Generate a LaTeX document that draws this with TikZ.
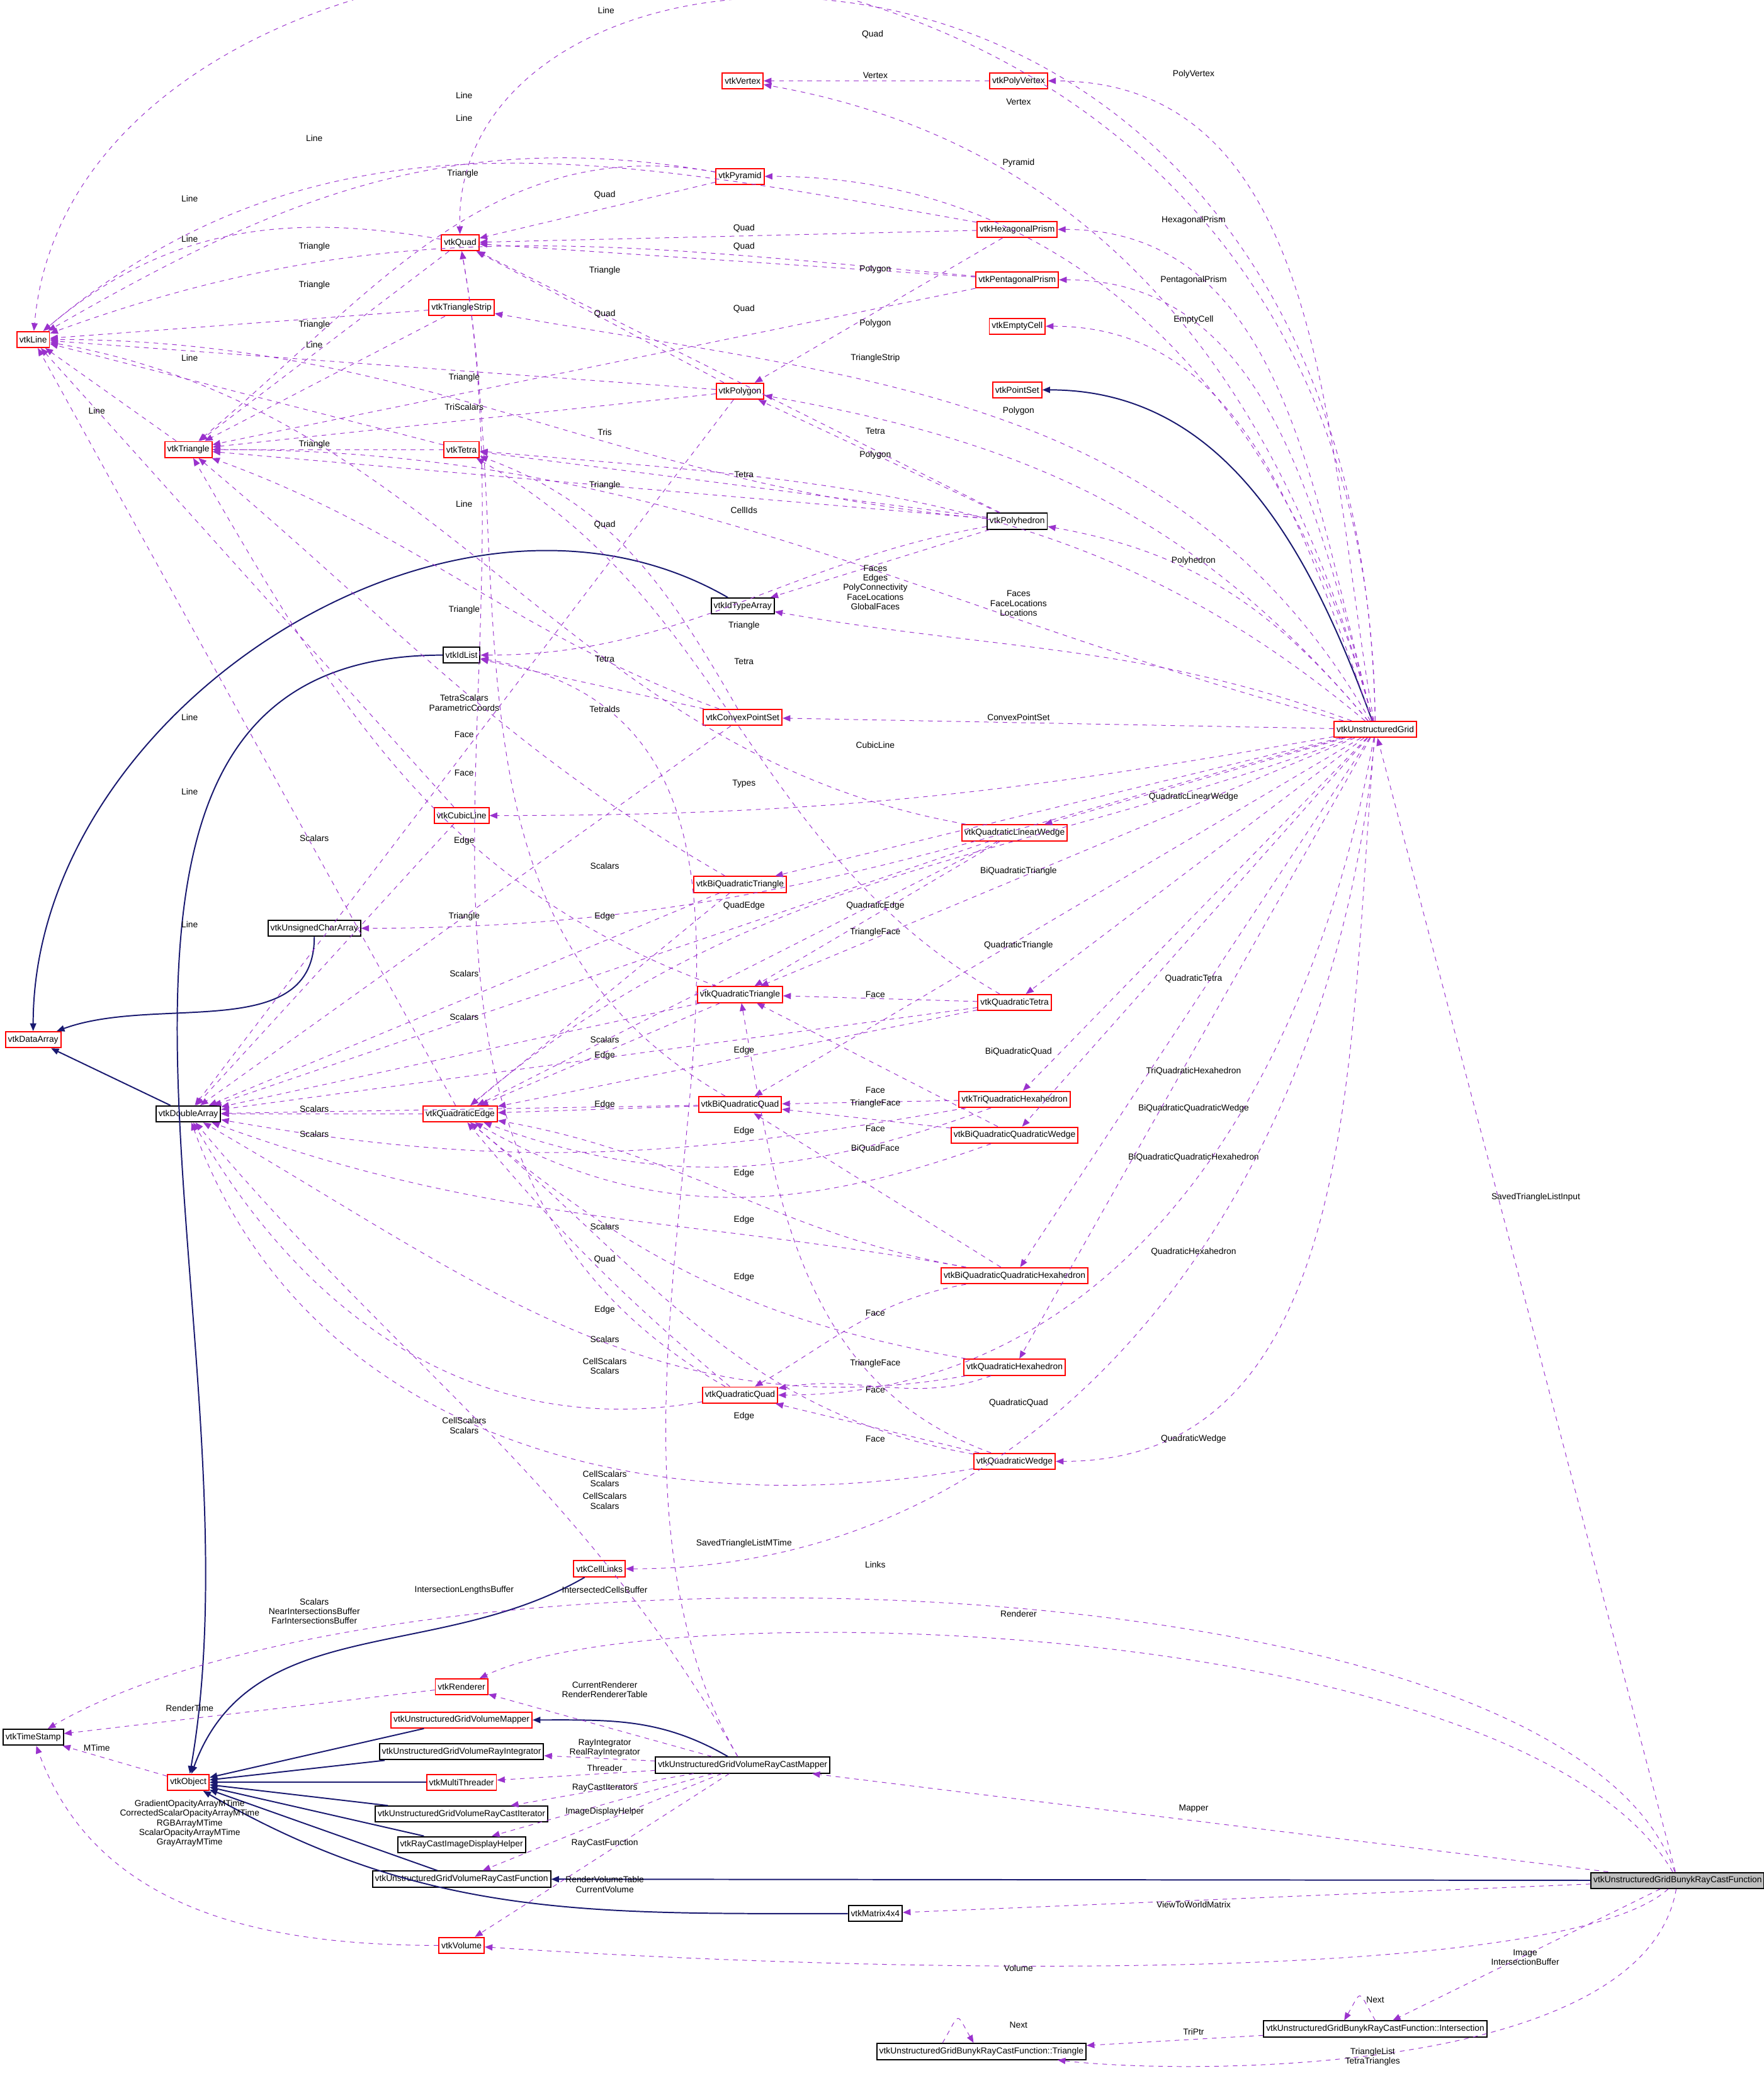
\documentclass[tikz,border=0pt]{standalone}
\usepackage{fontspec}
\setmainfont{Liberation Sans}
\usetikzlibrary{arrows.meta}
\definecolor{vpurple}{HTML}{9A32CD}
\definecolor{vblue}{HTML}{191970}

\begin{document}
\begin{tikzpicture}[x=0.03cm, y=-0.03cm,
    font=\fontsize{5.6}{6.2}\selectfont,
    cls/.style ={rectangle, draw=black, thick, fill=white, inner sep=1.6pt, minimum height=0.36cm},
    redcls/.style ={cls, draw=red},
    uses/.style ={dashed, draw=vpurple, -{Triangle[width=4pt,length=5pt]}},
    isa/.style ={draw=vblue, thick, -{Triangle[width=4pt,length=5pt]}},
    lbl/.style ={align=center, inner sep=0pt}]
   \useasboundingbox (0,0) rectangle (1330,1567);
   \fill[white] (0,0) rectangle (1330,1567);

   % classes
   \node[redcls] (Line) at (25,256) {vtkLine};
   \node[redcls] (Vertex) at (560,61) {vtkVertex};
   \node[redcls] (PolyVertex) at (768,61) {vtkPolyVertex};
   \node[redcls] (Pyramid) at (558,133) {vtkPyramid};
   \node[redcls] (Quad) at (347,183) {vtkQuad};
   \node[redcls] (HexPrism) at (767,173) {vtkHexagonalPrism};
   \node[redcls] (PentPrism) at (767,211) {vtkPentagonalPrism};
   \node[redcls] (TriStrip) at (348,232) {vtkTriangleStrip};
   \node[redcls] (EmptyCell) at (767,246) {vtkEmptyCell};
   \node[redcls] (PointSet) at (767,294) {vtkPointSet};
   \node[redcls] (Polygon) at (558,295) {vtkPolygon};
   \node[redcls] (Triangle) at (142,339) {vtkTriangle};
   \node[redcls] (Tetra) at (348,339) {vtkTetra};
   \node[cls] (Polyhedron) at (767,393) {vtkPolyhedron};
   \node[cls] (IdTypeArray) at (560,457) {vtkIdTypeArray};
   \node[cls] (IdList) at (348,494) {vtkIdList};
   \node[redcls] (ConvexPS) at (560,541) {vtkConvexPointSet};
   \node[redcls] (UG) at (1037,550) {vtkUnstructuredGrid};
   \node[redcls] (CubicLine) at (348,615) {vtkCubicLine};
   \node[redcls] (QLWedge) at (765,628) {vtkQuadraticLinearWedge};
   \node[redcls] (BQTriangle) at (558,667) {vtkBiQuadraticTriangle};
   \node[cls] (UCharArray) at (237,700) {vtkUnsignedCharArray};
   \node[redcls] (QTriangle) at (558,750) {vtkQuadraticTriangle};
   \node[redcls] (QTetra) at (765,756) {vtkQuadraticTetra};
   \node[redcls] (DataArray) at (25,784) {vtkDataArray};
   \node[redcls] (QEdge) at (347,840) {vtkQuadraticEdge};
   \node[cls] (DoubleArray) at (142,840) {vtkDoubleArray};
   \node[redcls] (BQQuad) at (558,833) {vtkBiQuadraticQuad};
   \node[redcls] (TQHex) at (765,829) {vtkTriQuadraticHexahedron};
   \node[redcls] (BQQWedge) at (765,856) {vtkBiQuadraticQuadraticWedge};
   \node[redcls] (BQQHex) at (765,962) {vtkBiQuadraticQuadraticHexahedron};
   \node[redcls] (QHex) at (765,1031) {vtkQuadraticHexahedron};
   \node[redcls] (QQuad) at (558,1052) {vtkQuadraticQuad};
   \node[redcls] (QWedge) at (765,1102) {vtkQuadraticWedge};
   \node[redcls] (CellLinks) at (452,1183) {vtkCellLinks};
   \node[redcls] (Renderer) at (348,1272) {vtkRenderer};
   \node[redcls] (UGVMapper) at (348,1297) {vtkUnstructuredGridVolumeMapper};
   \node[cls] (RayIntegrator) at (348,1321) {vtkUnstructuredGridVolumeRayIntegrator};
   \node[cls] (TimeStamp) at (25,1310) {vtkTimeStamp};
   \node[redcls] (Object) at (142,1344) {vtkObject};
   \node[redcls] (Threader) at (348,1344) {vtkMultiThreader};
   \node[cls] (RCMapper) at (560,1331) {vtkUnstructuredGridVolumeRayCastMapper};
   \node[cls] (RCIterator) at (348,1368) {vtkUnstructuredGridVolumeRayCastIterator};
   \node[cls] (DisplayHelper) at (348,1391) {vtkRayCastImageDisplayHelper};
   \node[cls] (RCFunction) at (348,1417) {vtkUnstructuredGridVolumeRayCastFunction};
   \node[cls, fill=black!25] (Bunyk) at (1265,1418) {vtkUnstructuredGridBunykRayCastFunction};
   \node[cls] (Matrix) at (660,1443) {vtkMatrix4x4};
   \node[redcls] (Volume) at (348,1467) {vtkVolume};
   \node[cls] (Intersection) at (1037,1530) {vtkUnstructuredGridBunykRayCastFunction::Intersection};
   \node[cls] (BTriangle) at (740,1547) {vtkUnstructuredGridBunykRayCastFunction::Triangle};
   \coordinate (c1) at (1180,1170);
   \coordinate (c2) at (300,1150);
   \coordinate (c3) at (1150,1220);
   \coordinate (c4) at (500,1200);

   % inheritance
   \draw[isa] (UG) to[out=110, in=0] (PointSet);
   \draw[isa] (IdTypeArray) to[out=150, in=90] (DataArray);
   \draw[isa] (UCharArray) to[out=-90, in=20] (DataArray);
   \draw[isa] (DoubleArray) -- (DataArray);
   \draw[isa] (IdList) to[out=180, in=80] (Object);
   \draw[isa] (CellLinks) to[out=-150, in=70] (Object);
   \draw[isa] (UGVMapper) -- (Object);
   \draw[isa] (RayIntegrator) -- (Object);
   \draw[isa] (Threader) -- (Object);
   \draw[isa] (RCIterator) -- (Object);
   \draw[isa] (DisplayHelper) -- (Object);
   \draw[isa] (RCFunction) -- (Object);
   \draw[isa] (Matrix) to[out=180, in=-30] (Object);
   \draw[isa] (RCMapper) to[out=150, in=0] (UGVMapper);
   \draw[isa] (Bunyk) -- (RCFunction);

   % uses, vtkUnstructuredGrid
   \draw[uses] (UG) .. controls (1030,-180) and (60,-140) .. (Line);
   \draw[uses] (UG) .. controls (1025,-120) and (340,-90) .. (Quad);
   \draw[uses] (UG) to[out=100, in=0] (PolyVertex);
   \draw[uses] (UG) to[out=105, in=-10] (Vertex);
   \draw[uses] (UG) to[out=105, in=0] (Pyramid);
   \draw[uses] (UG) to[out=105, in=0] (HexPrism);
   \draw[uses] (UG) to[out=105, in=0] (PentPrism);
   \draw[uses] (UG) to[out=110, in=0] (EmptyCell);
   \draw[uses] (UG) to[out=120, in=-10] (TriStrip);
   \draw[uses] (UG) to[out=130, in=-10] (Polygon);
   \draw[uses] (UG) to[out=140, in=-5] (Tetra);
   \draw[uses] (UG) to[out=130, in=-10] (Polyhedron);
   \draw[uses] (UG) to[out=160, in=-10] (IdTypeArray);
   \draw[uses] (UG) to[out=165, in=0] (Triangle);
   \draw[uses] (UG) -- (ConvexPS);
   \draw[uses] (UG) to[out=-170, in=0] (CubicLine);
   \draw[uses] (UG) to[out=-165, in=0] (UCharArray);
   \draw[uses] (UG) -- (QLWedge);
   \draw[uses] (UG) -- (BQTriangle);
   \draw[uses] (UG) to[out=-160, in=40] (QEdge);
   \draw[uses] (UG) -- (QTriangle);
   \draw[uses] (UG) -- (QTetra);
   \draw[uses] (UG) -- (BQQuad);
   \draw[uses] (UG) -- (TQHex);
   \draw[uses] (UG) -- (BQQWedge);
   \draw[uses] (UG) -- (BQQHex);
   \draw[uses] (UG) -- (QHex);
   \draw[uses] (UG) to[out=-100, in=0] (QQuad);
   \draw[uses] (UG) to[out=-95, in=0] (QWedge);
   \draw[uses] (UG) to[out=-95, in=0] (CellLinks);

   % uses, cells
   \draw[uses] (PolyVertex) -- (Vertex);
   \draw[uses] (Pyramid) to[out=170, in=30] (Line);
   \draw[uses] (Pyramid) to[out=170, in=40] (Triangle);
   \draw[uses] (Pyramid) -- (Quad);
   \draw[uses] (HexPrism) to[out=170, in=40] (Line);
   \draw[uses] (HexPrism) -- (Quad);
   \draw[uses] (HexPrism) -- (Polygon);
   \draw[uses] (PentPrism) to[out=175, in=20] (Line);
   \draw[uses] (PentPrism) -- (Quad);
   \draw[uses] (PentPrism) -- (Triangle);
   \draw[uses] (Quad) to[out=170, in=40] (Line);
   \draw[uses] (Quad) -- (Triangle);
   \draw[uses] (TriStrip) -- (Line);
   \draw[uses] (TriStrip) -- (Triangle);
   \draw[uses] (Polygon) -- (Line);
   \draw[uses] (Polygon) -- (Triangle);
   \draw[uses] (Polygon) -- (Quad);
   \draw[uses] (Polygon) -- (DoubleArray);
   \draw[uses] (Triangle) -- (Line);
   \draw[uses] (Tetra) -- (Line);
   \draw[uses] (Tetra) -- (Triangle);
   \draw[uses] (Polyhedron) -- (Quad);
   \draw[uses] (Polyhedron) -- (Polygon);
   \draw[uses] (Polyhedron) -- (Tetra);
   \draw[uses] (Polyhedron) -- (Triangle);
   \draw[uses] (Polyhedron) to[out=175, in=0] (Line);
   \draw[uses] (Polyhedron) to[out=-170, in=0] (IdList);
   \draw[uses] (Polyhedron) -- (IdTypeArray);
   \draw[uses] (ConvexPS) to[out=160, in=-20] (Triangle);
   \draw[uses] (ConvexPS) to[out=120, in=-20] (Tetra);
   \draw[uses] (ConvexPS) -- (IdList);
   \draw[uses] (ConvexPS) -- (DoubleArray);
   \draw[uses] (CubicLine) -- (Line);
   \draw[uses] (CubicLine) -- (DoubleArray);
   \draw[uses] (QEdge) -- (Line);
   \draw[uses] (QEdge) -- (DoubleArray);
   \draw[uses] (BQTriangle) to[out=150, in=-40] (Triangle);
   \draw[uses] (BQTriangle) -- (QEdge);
   \draw[uses] (BQTriangle) -- (DoubleArray);
   \draw[uses] (QLWedge) to[out=170, in=-10] (Line);
   \draw[uses] (QLWedge) -- (QEdge);
   \draw[uses] (QLWedge) -- (QTriangle);
   \draw[uses] (QLWedge) -- (DoubleArray);
   \draw[uses] (QTriangle) -- (QEdge);
   \draw[uses] (QTriangle) -- (DoubleArray);
   \draw[uses] (QTriangle) to[out=160, in=-60] (Triangle);
   \draw[uses] (QTetra) -- (QTriangle);
   \draw[uses] (QTetra) -- (QEdge);
   \draw[uses] (QTetra) to[out=150, in=-30] (Tetra);
   \draw[uses] (QTetra) -- (DoubleArray);
   \draw[uses] (BQQuad) to[out=150, in=-80] (Quad);
   \draw[uses] (BQQuad) -- (QEdge);
   \draw[uses] (BQQuad) -- (DoubleArray);
   \draw[uses] (TQHex) -- (BQQuad);
   \draw[uses] (TQHex) to[out=-160, in=-20] (QEdge);
   \draw[uses] (TQHex) to[out=-170, in=-10] (DoubleArray);
   \draw[uses] (BQQWedge) -- (QTriangle);
   \draw[uses] (BQQWedge) -- (BQQuad);
   \draw[uses] (BQQWedge) to[out=-160, in=-30] (QEdge);
   \draw[uses] (BQQHex) -- (BQQuad);
   \draw[uses] (BQQHex) to[out=170, in=-10] (QEdge);
   \draw[uses] (BQQHex) to[out=170, in=-20] (DoubleArray);
   \draw[uses] (BQQHex) to[out=-170, in=30] (QQuad);
   \draw[uses] (QHex) to[out=170, in=-40] (QEdge);
   \draw[uses] (QHex) to[out=-160, in=10] (QQuad);
   \draw[uses] (QHex) to[out=-170, in=-30] (DoubleArray);
   \draw[uses] (QQuad) to[out=150, in=-80] (Quad);
   \draw[uses] (QQuad) to[out=140, in=-50] (QEdge);
   \draw[uses] (QQuad) to[out=-170, in=-60] (DoubleArray);
   \draw[uses] (QWedge) -- (QQuad);
   \draw[uses] (QWedge) to[out=160, in=-80] (QTriangle);
   \draw[uses] (QWedge) to[out=170, in=-40] (QEdge);
   \draw[uses] (QWedge) to[out=-170, in=-70] (DoubleArray);

   % uses, ray casting
   \draw[uses] (Bunyk) -- (UG);
   \draw[uses] (Bunyk) .. controls (c1) and (c2) .. (TimeStamp);
   \draw[uses] (Bunyk) .. controls (c3) and (c4) .. (Renderer);
   \draw[uses] (Bunyk) -- (RCMapper);
   \draw[uses] (Bunyk) -- (Matrix);
   \draw[uses] (Bunyk) .. controls (1180,1495) and (700,1490) .. (Volume);
   \draw[uses] (Bunyk) -- (Intersection);
   \draw[uses] (Bunyk) .. controls (1240,1565) and (900,1565) .. (BTriangle);
   \draw[uses] (Intersection.north) to[out=120, in=60, looseness=3] ([xshift=-20]Intersection.north);
   \draw[uses] ([xshift=-25]BTriangle.north) to[out=60, in=120, looseness=3] ([xshift=-5]BTriangle.north);
   \draw[uses] (Intersection) -- (BTriangle);
   \draw[uses] (RCMapper) -- (Renderer);
   \draw[uses] (RCMapper) -- (RayIntegrator);
   \draw[uses] (RCMapper) -- (Threader);
   \draw[uses] (RCMapper) -- (RCIterator);
   \draw[uses] (RCMapper) -- (DisplayHelper);
   \draw[uses] (RCMapper) -- (RCFunction);
   \draw[uses] (RCMapper) -- (Volume);
   \draw[uses] (RCMapper) to[out=120, in=-50] (DoubleArray);
   \draw[uses] (RCMapper) to[out=120, in=-10] (IdList);
   \draw[uses] (Renderer) -- (TimeStamp);
   \draw[uses] (Object) -- (TimeStamp);
   \draw[uses] (Volume) to[out=180, in=-70] (TimeStamp);

   % labels
   \node[lbl] at (457,8) {Line};
   \node[lbl] at (658,26) {Quad};
   \node[lbl] at (660,57) {Vertex};
   \node[lbl] at (900,56) {PolyVertex};
   \node[lbl] at (768,77) {Vertex};
   \node[lbl] at (350,72) {Line};
   \node[lbl] at (350,89) {Line};
   \node[lbl] at (237,104) {Line};
   \node[lbl] at (768,123) {Pyramid};
   \node[lbl] at (349,131) {Triangle};
   \node[lbl] at (456,147) {Quad};
   \node[lbl] at (143,150) {Line};
   \node[lbl] at (900,166) {HexagonalPrism};
   \node[lbl] at (561,172) {Quad};
   \node[lbl] at (143,180) {Line};
   \node[lbl] at (237,186) {Triangle};
   \node[lbl] at (561,186) {Quad};
   \node[lbl] at (456,204) {Triangle};
   \node[lbl] at (660,203) {Polygon};
   \node[lbl] at (900,211) {PentagonalPrism};
   \node[lbl] at (237,215) {Triangle};
   \node[lbl] at (456,237) {Quad};
   \node[lbl] at (561,233) {Quad};
   \node[lbl] at (900,241) {EmptyCell};
   \node[lbl] at (660,244) {Polygon};
   \node[lbl] at (237,245) {Triangle};
   \node[lbl] at (237,260) {Line};
   \node[lbl] at (660,270) {TriangleStrip};
   \node[lbl] at (143,270) {Line};
   \node[lbl] at (350,285) {Triangle};
   \node[lbl] at (350,307) {TriScalars};
   \node[lbl] at (73,310) {Line};
   \node[lbl] at (768,310) {Polygon};
   \node[lbl] at (660,325) {Tetra};
   \node[lbl] at (456,326) {Tris};
   \node[lbl] at (237,335) {Triangle};
   \node[lbl] at (660,343) {Polygon};
   \node[lbl] at (561,358) {Tetra};
   \node[lbl] at (456,366) {Triangle};
   \node[lbl] at (350,380) {Line};
   \node[lbl] at (456,396) {Quad};
   \node[lbl] at (561,385) {CellIds};
   \node[lbl] at (900,423) {Polyhedron};
   \node[lbl] at (660,443) {Faces\\Edges\\PolyConnectivity\\FaceLocations\\GlobalFaces};
   \node[lbl] at (768,455) {Faces\\FaceLocations\\Locations};
   \node[lbl] at (350,460) {Triangle};
   \node[lbl] at (561,472) {Triangle};
   \node[lbl] at (456,497) {Tetra};
   \node[lbl] at (561,499) {Tetra};
   \node[lbl] at (350,530) {TetraScalars\\ParametricCoords};
   \node[lbl] at (456,535) {Tetralds};
   \node[lbl] at (768,541) {ConvexPointSet};
   \node[lbl] at (143,541) {Line};
   \node[lbl] at (350,554) {Face};
   \node[lbl] at (660,562) {CubicLine};
   \node[lbl] at (350,583) {Face};
   \node[lbl] at (561,591) {Types};
   \node[lbl] at (143,597) {Line};
   \node[lbl] at (900,601) {QuadraticLinearWedge};
   \node[lbl] at (237,632) {Scalars};
   \node[lbl] at (350,634) {Edge};
   \node[lbl] at (456,653) {Scalars};
   \node[lbl] at (768,657) {BiQuadraticTriangle};
   \node[lbl] at (561,683) {QuadEdge};
   \node[lbl] at (660,683) {QuadraticEdge};
   \node[lbl] at (350,691) {Triangle};
   \node[lbl] at (456,691) {Edge};
   \node[lbl] at (143,697) {Line};
   \node[lbl] at (660,703) {TriangleFace};
   \node[lbl] at (768,713) {QuadraticTriangle};
   \node[lbl] at (350,734) {Scalars};
   \node[lbl] at (900,738) {QuadraticTetra};
   \node[lbl] at (660,750) {Face};
   \node[lbl] at (350,767) {Scalars};
   \node[lbl] at (456,784) {Scalars};
   \node[lbl] at (561,792) {Edge};
   \node[lbl] at (768,793) {BiQuadraticQuad};
   \node[lbl] at (456,796) {Edge};
   \node[lbl] at (900,808) {TriQuadraticHexahedron};
   \node[lbl] at (660,822) {Face};
   \node[lbl] at (660,832) {TriangleFace};
   \node[lbl] at (456,833) {Edge};
   \node[lbl] at (237,836) {Scalars};
   \node[lbl] at (900,836) {BiQuadraticQuadraticWedge};
   \node[lbl] at (660,851) {Face};
   \node[lbl] at (561,853) {Edge};
   \node[lbl] at (237,855) {Scalars};
   \node[lbl] at (660,866) {BiQuadFace};
   \node[lbl] at (900,873) {BiQuadraticQuadraticHexahedron};
   \node[lbl] at (561,885) {Edge};
   \node[lbl] at (1158,903) {SavedTriangleListInput};
   \node[lbl] at (561,920) {Edge};
   \node[lbl] at (456,925) {Scalars};
   \node[lbl] at (900,944) {QuadraticHexahedron};
   \node[lbl] at (456,950) {Quad};
   \node[lbl] at (561,963) {Edge};
   \node[lbl] at (456,988) {Edge};
   \node[lbl] at (660,990) {Face};
   \node[lbl] at (456,1010) {Scalars};
   \node[lbl] at (660,1028) {TriangleFace};
   \node[lbl] at (456,1030) {CellScalars\\Scalars};
   \node[lbl] at (660,1048) {Face};
   \node[lbl] at (768,1058) {QuadraticQuad};
   \node[lbl] at (561,1068) {Edge};
   \node[lbl] at (350,1075) {CellScalars\\Scalars};
   \node[lbl] at (660,1085) {Face};
   \node[lbl] at (900,1085) {QuadraticWedge};
   \node[lbl] at (456,1115) {CellScalars\\Scalars};
   \node[lbl] at (456,1132) {CellScalars\\Scalars};
   \node[lbl] at (561,1164) {SavedTriangleListMTime};
   \node[lbl] at (660,1180) {Links};
   \node[lbl] at (350,1199) {IntersectionLengthsBuffer};
   \node[lbl] at (456,1199) {IntersectedCellsBuffer};
   \node[lbl] at (237,1215) {Scalars\\NearIntersectionsBuffer\\FarIntersectionsBuffer};
   \node[lbl] at (768,1217) {Renderer};
   \node[lbl] at (456,1274) {CurrentRenderer\\RenderRendererTable};
   \node[lbl] at (143,1288) {RenderTime};
   \node[lbl] at (456,1318) {RayIntegrator\\RealRayIntegrator};
   \node[lbl] at (73,1318) {MTime};
   \node[lbl] at (456,1333) {Threader};
   \node[lbl] at (456,1348) {RayCastIterators};
   \node[lbl] at (143,1375) {GradientOpacityArrayMTime\\CorrectedScalarOpacityArrayMTime\\RGBArrayMTime\\ScalarOpacityArrayMTime\\GrayArrayMTime};
   \node[lbl] at (900,1364) {Mapper};
   \node[lbl] at (456,1366) {ImageDisplayHelper};
   \node[lbl] at (456,1390) {RayCastFunction};
   \node[lbl] at (456,1421) {RenderVolumeTable\\CurrentVolume};
   \node[lbl] at (900,1436) {ViewToWorldMatrix};
   \node[lbl] at (1150,1476) {Image\\IntersectionBuffer};
   \node[lbl] at (768,1484) {Volume};
   \node[lbl] at (1037,1508) {Next};
   \node[lbl] at (900,1532) {TriPtr};
   \node[lbl] at (768,1527) {Next};
   \node[lbl] at (1035,1551) {TriangleList\\TetraTriangles};
 \end{tikzpicture}
\end{document}
